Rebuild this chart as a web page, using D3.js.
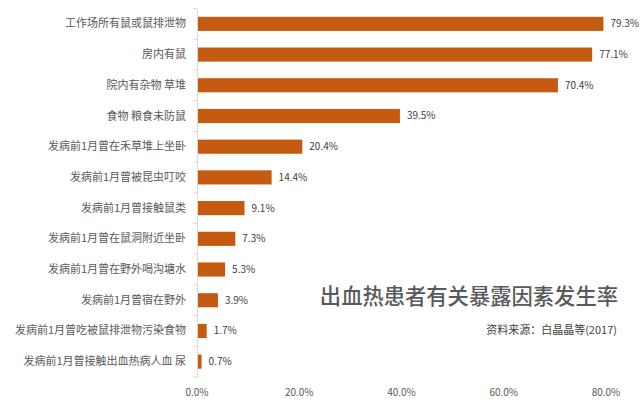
<!DOCTYPE html>
<html>
  <head>
    <meta charset="UTF-8">
    <script src="https://d3js.org/d3.v7.min.js"></script>
    <style>
      body { margin: 0; background: #fff; }
      text { font-family: "Noto Sans CJK SC", "Noto Sans", sans-serif; }
    </style>
  </head>
  <body>
    <svg class="chart"></svg>
    <script type="text/javascript">

     var width = 640,
         height = 400;

     var categories = [
         "工作场所有鼠或鼠排泄物",
         "房内有鼠",
         "院内有杂物 草堆",
         "食物 粮食未防鼠",
         "发病前1月曾在禾草堆上坐卧",
         "发病前1月曾被昆虫叮咬",
         "发病前1月曾接触鼠类",
         "发病前1月曾在鼠洞附近坐卧",
         "发病前1月曾在野外喝沟塘水",
         "发病前1月曾宿在野外",
         "发病前1月曾吃被鼠排泄物污染食物",
         "发病前1月曾接触出血热病人血 尿"
     ];
     var values = [79.3, 77.1, 70.4, 39.5, 20.4, 14.4, 9.1, 7.3, 5.3, 3.9, 1.7, 0.7];
     var xTicks = [0, 20, 40, 60, 80];

     var title = "出血热患者有关暴露因素发生率",
         source = "资料来源：白晶晶等(2017)";

     var chart = d3.select(".chart")
                   .attr("width", width)
                   .attr("height", height);

     var x = d3.scaleLinear().domain([0, 80]).range([197, 606]);
     var y = d3.scaleBand().domain(categories).range([8.5, 377]).paddingInner(0.54).paddingOuter(0.27);

     // category axis
     var yAxis = chart.append("g")
                      .attr("transform", "translate(197,0)")
                      .call(d3.axisLeft(y).tickSize(0).tickPadding(11));
     yAxis.select(".domain").attr("stroke", "#d9d9d9");
     yAxis.selectAll("text")
          .attr("fill", "#595959")
          .style("font-size", "11px");

     // band boundary ticks
     var step = y.step();
     var bounds = d3.range(categories.length + 1).map(function(i) { return 8.5 + i * step; });
     chart.append("g").selectAll("line")
          .data(bounds)
          .enter().append("line")
          .attr("x1", 193).attr("x2", 197)
          .attr("y1", function(d) { return d; })
          .attr("y2", function(d) { return d; })
          .attr("stroke", "#d9d9d9");

     // bars
     chart.append("g").selectAll("rect")
          .data(values)
          .enter().append("rect")
          .attr("x", x(0) + 1)
          .attr("y", function(d, i) { return y(categories[i]); })
          .attr("width", function(d) { return x(d) - x(0); })
          .attr("height", y.bandwidth())
          .attr("fill", "#c55a11");

     // value labels
     chart.append("g").selectAll("text")
          .data(values)
          .enter().append("text")
          .attr("x", function(d) { return x(d) + 8; })
          .attr("y", function(d, i) { return y(categories[i]) + y.bandwidth() / 2; })
          .attr("dy", "0.35em")
          .attr("fill", "#404040")
          .style("font-size", "10px")
          .text(function(d) { return d.toFixed(1) + "%"; });

     // x tick labels
     chart.append("g").selectAll("text")
          .data(xTicks)
          .enter().append("text")
          .attr("x", function(d) { return x(d); })
          .attr("y", 392)
          .attr("dy", "0.35em")
          .attr("text-anchor", "middle")
          .attr("fill", "#595959")
          .style("font-size", "10px")
          .text(function(d) { return d.toFixed(1) + "%"; });

     chart.append("text")
          .attr("x", 618).attr("y", 297)
          .attr("dy", "0.35em")
          .attr("text-anchor", "end")
          .attr("fill", "#595959")
          .style("font-size", "21.3px")
          .style("font-weight", "500")
          .text(title);

     chart.append("text")
          .attr("x", 617).attr("y", 330)
          .attr("dy", "0.35em")
          .attr("text-anchor", "end")
          .attr("fill", "#404040")
          .style("font-size", "11px")
          .text(source);

    </script>
  </body>
</html>
